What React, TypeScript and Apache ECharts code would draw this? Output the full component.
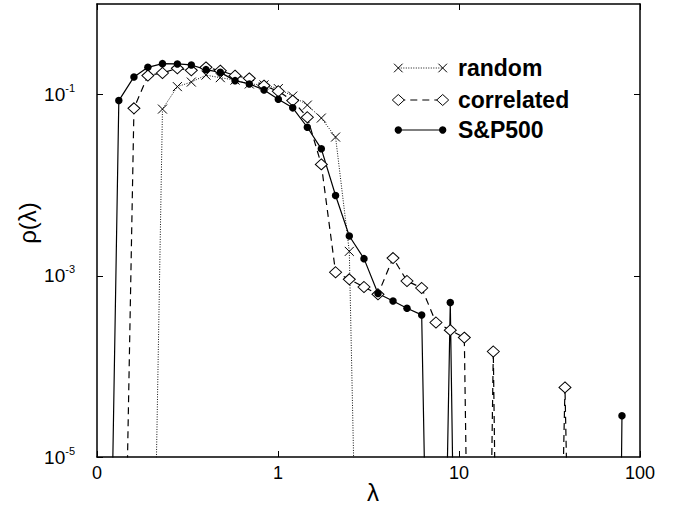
import React, { useEffect, useRef } from 'react';
import * as echarts from 'echarts';

// eigenvalue bins (lambda), common to all three distributions
const lambda = [
  0.110, 0.132, 0.160, 0.191, 0.230, 0.278, 0.332, 0.400, 0.480, 0.579,
  0.694, 0.837, 1.004, 1.206, 1.452, 1.735, 2.08, 2.477, 2.986, 3.568,
  4.32, 5.16, 6.22, 7.46, 8.95, 10.7, 12.9, 15.47, 18.6, 22.3,
  26.8, 31.9, 38.5, 46.2, 55.4, 66.3, 79.5,
];

// rho(lambda); null = bin not plotted, tiny values = empty bins (drop off the axis)
const randomRho = [
  null, null, null, 3e-11, 0.0692, 0.1225, 0.1375, 0.164, 0.1538, 0.1445,
  0.131, 0.128, 0.1165, 0.0963, 0.0766, 0.0551, 0.034, 0.00186, 3e-11, null,
  null, null, null, null, null, null, null, null, null, null,
  null, null, null, null, null, null, null,
];

const correlatedRho = [
  null, 6e-11, 0.0706, 0.162, 0.1733, 0.195, 0.1853, 0.2, 0.1838, 0.1619,
  0.1512, 0.1257, 0.1088, 0.0859, 0.0562, 0.01695, 0.001094, 0.000915, 0.000752, 0.000625,
  0.00157, 0.000877, 0.000734, 0.000305, 0.000251, 0.000208, 1e-15, 0.000146, 1e-16, null,
  null, 1e-12, 5.86e-5, 1e-12, null, null, null,
];

const sp500Rho = [
  3e-11, 0.0859, 0.1567, 0.2, 0.2197, 0.218, 0.2124, 0.1886, 0.176, 0.1426,
  0.1312, 0.1127, 0.0888, 0.0714, 0.0436, 0.0252, 0.0077, 0.00275, 0.001547, 0.000637,
  0.000527, 0.000438, 0.00037, 1e-12, 0.000507, 1e-14, null, null, null, null,
  null, null, null, null, null, 1e-20, 2.85e-5,
];

const xTickLabels = ['0', '1', '10', '100'];
const yLabelValues = [1e-5, 1e-3, 1e-1];
const yRightTickValues = [1e-3, 1e-1];
const seriesNames = ['random', 'correlated', 'S&P500'];

const FONT = '"Liberation Sans", Arial, Helvetica, sans-serif';
const Y_MIN = 1e-5;

function toData(vals: (number | null)[]) {
  const out: any[] = [];
  vals.forEach((v, i) => {
    if (v == null) return;
    const item: any = { value: [lambda[i], v] };
    if (v < Y_MIN) item.symbol = 'none';
    out.push(item);
  });
  return out;
}

const CROSS = 'path://M0,0L10,10M0,10L10,0';

export default function App() {
  const ref = useRef<HTMLDivElement>(null);

  useEffect(() => {
    if (!ref.current) return;
    const chart = echarts.init(ref.current, undefined, { renderer: 'svg' });

    // legend graphics
    const lx0 = 398.3;
    const lx1 = 442.7;
    const ly = [68, 100, 130];
    const legend: any[] = [];
    // random
    legend.push({
      type: 'line', shape: { x1: lx0, y1: ly[0], x2: lx1, y2: ly[0] },
      style: { stroke: '#111', lineWidth: 1, lineDash: [1, 1.5] }, silent: true,
    });
    [lx0, lx1].forEach((x) => {
      legend.push({ type: 'line', shape: { x1: x - 4.3, y1: ly[0] - 4.3, x2: x + 4.3, y2: ly[0] + 4.3 }, style: { stroke: '#000', lineWidth: 1 }, z: 5 });
      legend.push({ type: 'line', shape: { x1: x - 4.3, y1: ly[0] + 4.3, x2: x + 4.3, y2: ly[0] - 4.3 }, style: { stroke: '#000', lineWidth: 1 }, z: 5 });
    });
    // correlated
    legend.push({
      type: 'line', shape: { x1: lx0, y1: ly[1], x2: lx1, y2: ly[1] },
      style: { stroke: '#000', lineWidth: 1.2, lineDash: [7, 5] }, silent: true,
    });
    [lx0, lx1].forEach((x) => {
      legend.push({
        type: 'polygon',
        shape: { points: [[x - 6, ly[1]], [x, ly[1] - 5.5], [x + 6, ly[1]], [x, ly[1] + 5.5]] },
        style: { fill: '#fff', stroke: '#000', lineWidth: 1 }, z: 5,
      });
    });
    // S&P500
    legend.push({
      type: 'line', shape: { x1: lx0, y1: ly[2], x2: lx1, y2: ly[2] },
      style: { stroke: '#000', lineWidth: 1.2 }, silent: true,
    });
    [lx0, lx1].forEach((x) => {
      legend.push({ type: 'circle', shape: { cx: x, cy: ly[2], r: 3.7 }, style: { fill: '#000' }, z: 5 });
    });
    seriesNames.forEach((name, i) => {
      legend.push({
        type: 'text', x: 458, y: ly[i],
        style: {
          text: name, fill: '#000', font: `bold 23px ${FONT}`,
          fontSize: 23, fontWeight: 'bold', fontFamily: FONT,
          align: 'left', textAlign: 'left', verticalAlign: 'middle', textVerticalAlign: 'middle',
        },
        z: 5,
      });
    });
    // axis titles
    legend.push({
      type: 'text', x: 27.5, y: 223, rotation: Math.PI / 2,
      style: {
        text: 'ρ(λ)', fill: '#000', fontSize: 24, fontFamily: FONT,
        align: 'center', textAlign: 'center', verticalAlign: 'middle', textVerticalAlign: 'middle',
      },
    });
    legend.push({
      type: 'text', x: 373, y: 492.5,
      style: {
        text: 'λ', fill: '#000', fontSize: 24, fontFamily: FONT,
        align: 'center', textAlign: 'center', verticalAlign: 'middle', textVerticalAlign: 'middle',
      },
    });

    const axisLine = { show: true, onZero: false, lineStyle: { color: '#000', width: 1.5 } };

    chart.setOption({
      animation: false,
      backgroundColor: '#fff',
      grid: { left: 97, right: 37, top: 4, bottom: 49, outerBoundsMode: 'none', containLabel: false },
      xAxis: [
        {
          type: 'log', logBase: 10, min: 0.1, max: 100, interval: 1, position: 'bottom',
          axisLine,
          axisTick: { show: true, inside: true, length: 6, lineStyle: { color: '#000', width: 1 } },
          axisLabel: {
            show: true, margin: 7, color: '#000', fontSize: 18, fontFamily: FONT,
            showMinLabel: true, showMaxLabel: true, hideOverlap: false,
            formatter: (v: number) => xTickLabels[Math.round(Math.log10(v)) + 1] ?? '',
          },
          splitLine: { show: false },
        },
        {
          type: 'log', logBase: 10, min: 0.1, max: 100, interval: 1, position: 'top',
          axisLine,
          axisTick: { show: true, inside: true, length: 6, lineStyle: { color: '#000', width: 1 } },
          axisLabel: { show: false },
          splitLine: { show: false },
        },
      ],
      yAxis: [
        {
          type: 'log', logBase: 10, min: 1e-5, max: 1, position: 'left',
          axisLine,
          axisTick: { show: true, inside: true, length: 6, customValues: yLabelValues, lineStyle: { color: '#000', width: 1 } },
          axisLabel: {
            show: true, margin: 22, color: '#000', customValues: yLabelValues,
            showMinLabel: true, showMaxLabel: true,
            formatter: (v: number) => `{b|10}{s|${Math.round(Math.log10(v))}}`,
            rich: {
              b: { fontSize: 19, fontFamily: FONT, color: '#000', lineHeight: 24 },
              s: { fontSize: 11, fontFamily: FONT, color: '#000', lineHeight: 12, verticalAlign: 'top' },
            },
          },
          splitLine: { show: false },
        },
        {
          type: 'log', logBase: 10, min: 1e-5, max: 1, position: 'right',
          axisLine,
          axisTick: { show: true, inside: true, length: 6, customValues: yRightTickValues, lineStyle: { color: '#000', width: 1 } },
          axisLabel: { show: false },
          splitLine: { show: false },
        },
      ],
      series: [
        {
          name: seriesNames[0], type: 'line', xAxisIndex: 0, yAxisIndex: 0,
          data: toData(randomRho), clip: true, silent: true,
          symbol: CROSS, symbolSize: 9,
          itemStyle: { color: '#000', borderColor: '#000', borderWidth: 1 },
          lineStyle: { color: '#111', width: 1, type: [1, 1.5] },
          emphasis: { disabled: true },
        },
        {
          name: seriesNames[1], type: 'line', xAxisIndex: 0, yAxisIndex: 0,
          data: toData(correlatedRho), clip: true, silent: true,
          symbol: 'diamond', symbolSize: [12, 11],
          itemStyle: { color: '#fff', borderColor: '#000', borderWidth: 1 },
          lineStyle: { color: '#000', width: 1.2, type: [7, 5] },
          emphasis: { disabled: true },
        },
        {
          name: seriesNames[2], type: 'line', xAxisIndex: 0, yAxisIndex: 0,
          data: toData(sp500Rho), clip: true, silent: true,
          symbol: 'circle', symbolSize: 7.5,
          itemStyle: { color: '#000' },
          lineStyle: { color: '#000', width: 1.2 },
          emphasis: { disabled: true },
        },
      ],
      graphic: legend,
    });

    return () => chart.dispose();
  }, []);

  return (
    <div
      ref={ref}
      style={{ position: 'fixed', left: 0, top: 0, width: 677, height: 506, background: '#fff' }}
    />
  );
}
